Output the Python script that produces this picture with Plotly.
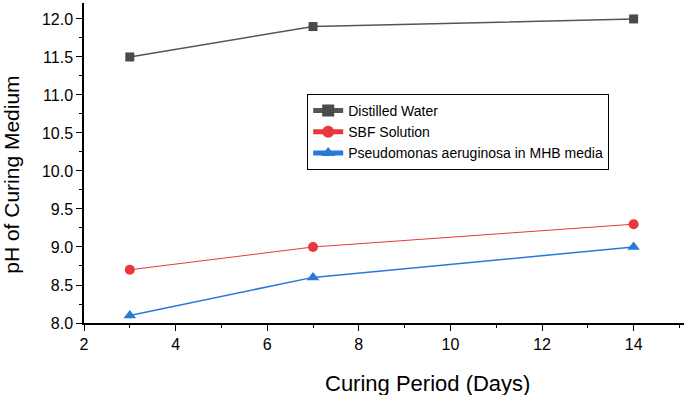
import plotly.graph_objects as go

days = [3, 7, 14]
distilled = [11.5, 11.9, 12.0]
sbf = [8.7, 9.0, 9.3]
pseudo = [8.1, 8.6, 9.0]

fig = go.Figure()
fig.add_trace(go.Scatter(x=days, y=distilled, mode="lines+markers", name="Distilled Water",
                         line=dict(color="#555555", width=1.5),
                         marker=dict(symbol="square", size=9, color="#4a4a4a")))
fig.add_trace(go.Scatter(x=days, y=sbf, mode="lines+markers", name="SBF Solution",
                         line=dict(color="#e8383d", width=1),
                         marker=dict(symbol="circle", size=10, color="#e8383d")))
fig.add_trace(go.Scatter(x=days, y=pseudo, mode="lines+markers", name="Pseudomonas aeruginosa in MHB media",
                         line=dict(color="#2a78d8", width=1.5),
                         marker=dict(symbol="triangle-up", size=11, color="#2a78d8")))

font = "Liberation Sans, Arial, sans-serif"
fig.update_layout(
    width=685, height=395,
    margin=dict(l=84, r=1, t=3, b=72),
    plot_bgcolor="white", paper_bgcolor="white",
    font=dict(family=font, color="black"),
    showlegend=True,
    legend=dict(x=0.372, y=0.716, xanchor="left", yanchor="top",
                bordercolor="black", borderwidth=1, bgcolor="white",
                font=dict(size=14, family=font), tracegroupgap=0,
                itemsizing="constant", itemwidth=30),
    xaxis=dict(range=[2, 15.1], dtick=2, tick0=2, showline=True, linecolor="black", linewidth=1.5,
               ticks="outside", ticklen=6, tickcolor="black", showgrid=False, zeroline=False,
               tickfont=dict(size=16), automargin=False,
               minor=dict(dtick=1, ticks="outside", ticklen=3, tickcolor="black", showgrid=False)),
    yaxis=dict(range=[8, 12.21], dtick=0.5, tick0=8, tickformat=".1f", showline=True, linecolor="black",
               linewidth=1.5, ticks="outside", ticklen=6, tickcolor="black", showgrid=False, zeroline=False,
               tickfont=dict(size=16), automargin=False,
               minor=dict(dtick=0.25, ticks="outside", ticklen=3, tickcolor="black", showgrid=False)),
    annotations=[
        dict(text="Curing Period (Days)", xref="paper", yref="paper", x=0.572, y=-0.19,
             xanchor="center", yanchor="middle", showarrow=False, font=dict(size=22, family=font)),
        dict(text="pH of Curing Medium", xref="paper", yref="paper", x=-0.122, y=0.4625,
             xanchor="center", yanchor="middle", textangle=-90, showarrow=False,
             font=dict(size=21, family=font)),
    ],
)
fig.write_html("out.html", config={"displayModeBar": False},
               post_script="document.body.style.margin='0px';document.body.style.padding='0px';")
